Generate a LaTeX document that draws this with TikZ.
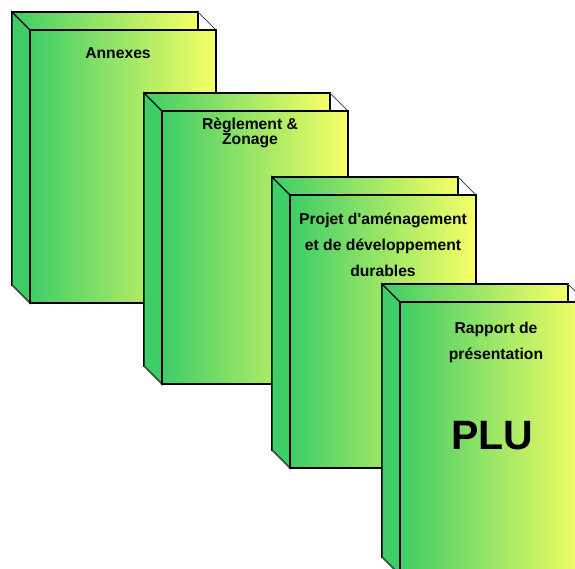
\documentclass[tikz,border=0pt]{standalone}
\usepackage{fontspec}
\setmainfont{Liberation Sans}
\usepackage{xcolor}
\definecolor{BookGreen}{HTML}{3ECD67}
\definecolor{BookYellow}{HTML}{F7FF66}
\definecolor{EdgeGray}{HTML}{505050}
\tikzset{
  face/.style={left color=BookGreen, right color=BookYellow, draw=black, line width=1.4pt},
  side/.style={fill=BookGreen, draw=black, line width=1.4pt},
  edge/.style={EdgeGray, line width=0.8pt},
  booktitle/.style={font=\bfseries\fontsize{15.7}{26}\selectfont, align=center, inner sep=0pt},
}

\begin{document}
\begin{tikzpicture}[x=1pt, y=-1pt]
  % Frame
  \useasboundingbox (0,0) rectangle (575,568);
  \clip (0,0) rectangle (575,568);

  % Books (back face, side, hidden edges, front face)
  \foreach \bx/\by in {12/12, 144/93, 272/177, 382/284} {
    \fill[face] (\bx,\by) rectangle ++(186,273);
    \filldraw[side] (\bx,\by) -- ++(18,18) -- ++(0,273) -- ++(-18,-18) -- cycle;
    \draw[edge] (\bx+186,\by) -- ++(18,18);
    \draw[edge] (\bx,\by+273) -- ++(18,18);
    \fill[face] (\bx+18,\by+18) rectangle ++(186,273);
  }

  % Titles
  \node[booktitle] (annexes) at (118,53) {Annexes};
  \node[booktitle, font=\bfseries\fontsize{15.7}{14}\selectfont] (reglement) at (250,133) {Règlement \&\\Zonage};
  \node[booktitle] (padd) at (383,245) {Projet d\textquotesingle aménagement\\et de développement\\durables};
  \node[booktitle] (rapport) at (496,342) {Rapport de\\présentation};
  \node[booktitle, font=\bfseries\fontsize{41}{41}\selectfont] (plu) at (492,436) {PLU};
\end{tikzpicture}
\end{document}
